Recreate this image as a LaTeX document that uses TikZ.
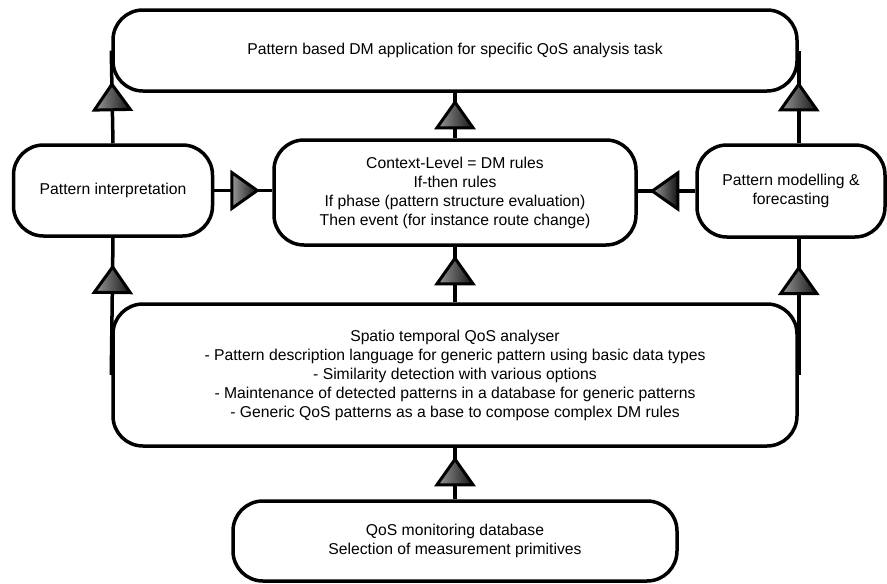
\documentclass[tikz,border=0pt]{standalone}
\usepackage{fontspec}
\setmainfont{Liberation Sans}
\usetikzlibrary{decorations.markings}
\begin{document}
\begin{tikzpicture}[x=1pt,y=-1pt,
  box/.style={draw=black, line width=3.5pt, rounded corners=30pt, fill=white,
    align=center, inner sep=0pt, font=\fontsize{15.7}{19}\selectfont},
  flow/.style={draw=black, line width=3.5pt},
  tri at/.style={postaction={decorate, decoration={markings,
    mark=at position #1 with {\draw[line width=3pt, line join=miter, draw=black,
      left color=black!40, right color=black!92]
      (-12.5,-18) -- (13,0) -- (-12.5,18) -- cycle;}}}}
]
\useasboundingbox (0,0) rectangle (887,584);

% boxes
\node[box, minimum width=684pt, minimum height=81pt] (top) at (455,50.5)
  {Pattern based DM application for specific QoS analysis task};
\node[box, minimum width=199pt, minimum height=91pt] (pi) at (113,190.5)
  {Pattern interpretation};
\node[box, minimum width=362pt, minimum height=105pt] (ctx) at (455,192.5)
  {Context-Level = DM rules\\If-then rules\\If phase (pattern structure evaluation)\\Then event (for instance route change)};
\node[box, minimum width=188pt, minimum height=92pt] (pm) at (791,191)
  {Pattern modelling \&\\forecasting};
\node[box, minimum width=684pt, minimum height=142pt] (big) at (455,375)
  {Spatio temporal QoS analyser\\
   - Pattern description language for generic pattern using basic data types\\
   - Similarity detection with various options\\
   - Maintenance of detected patterns in a database for generic patterns\\
   - Generic QoS patterns as a base to compose complex DM rules};
\node[box, minimum width=444pt, minimum height=80pt] (db) at (455,541)
  {QoS monitoring database\\Selection of measurement primitives};

% connectors
\draw[flow, tri at=46pt] (pi.north) -- (top.west);
\draw[flow, tri at=23pt] (ctx.north) -- (top.south);
\draw[flow, tri at=46pt] (top.east |- pm.north) -- (top.east);
\draw[flow, tri at=30pt] (pi.east) -- (pi.east -| ctx.west);
\draw[flow, tri at=30pt] (pm.west) -- (pm.west -| ctx.east);
\draw[flow, tri at=95pt] (big.west) -- (pi.south);
\draw[flow, tri at=31pt] (big.north) -- (ctx.south);
\draw[flow, tri at=94pt] (big.east) -- (top.east |- pm.south);
\draw[flow, tri at=27pt] (db.north) -- (big.south);
\end{tikzpicture}
\end{document}
